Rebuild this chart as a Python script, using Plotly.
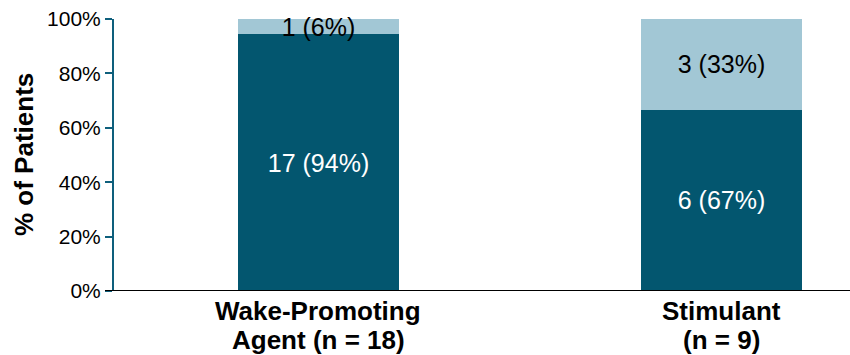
import plotly.graph_objects as go

# Treatment groups and patient counts per response category
groups = ["Wake-Promoting Agent (n = 18)", "Stimulant (n = 9)"]
group_label_lines = [["Wake-Promoting", "Agent (n = 18)"], ["Stimulant", "(n = 9)"]]
group_n = [18, 9]
lower_counts = [17, 6]
upper_counts = [1, 3]
y_ticks = [0, 20, 40, 60, 80, 100]

DARK = "#03566F"
LIGHT = "#A2C7D5"
AXIS_TEAL = "#0E5F7C"
FONT = "Liberation Sans, Arial, Helvetica, sans-serif"

x_pos = list(range(len(groups)))
lower_pct = [c / n * 100 for c, n in zip(lower_counts, group_n)]
upper_pct = [c / n * 100 for c, n in zip(upper_counts, group_n)]
lower_text = [f"{c} ({p:.0f}%)" for c, p in zip(lower_counts, lower_pct)]
upper_text = [f"{c} ({p:.0f}%)" for c, p in zip(upper_counts, upper_pct)]

fig = go.Figure()
fig.add_trace(go.Bar(
    x=x_pos, y=lower_pct, width=0.4, marker=dict(color=DARK, line=dict(width=0)),
    text=lower_text, textposition="inside", insidetextanchor="middle",
    textangle=0, constraintext="none", cliponaxis=False,
    textfont=dict(family=FONT, size=25, color="white"),
    hoverinfo="skip", showlegend=False,
))
fig.add_trace(go.Bar(
    x=x_pos, y=upper_pct, width=0.4, marker=dict(color=LIGHT, line=dict(width=0)),
    text=upper_text, textposition="inside", insidetextanchor="middle",
    textangle=0, constraintext="none", cliponaxis=False,
    textfont=dict(family=FONT, size=25, color="black"),
    hoverinfo="skip", showlegend=False,
))

# Two-line category labels below the axis
for xi, lines in zip(x_pos, group_label_lines):
    for k, line in enumerate(lines):
        fig.add_annotation(
            x=xi, xref="x", y=0, yref="paper", yanchor="middle", xanchor="center",
            yshift=-20 - 29 * k, text=f"<b>{line}</b>", showarrow=False,
            font=dict(family=FONT, size=26, color="black"),
        )

# Vertical axis title
fig.add_annotation(
    x=0, xref="paper", y=0.5, yref="paper", xshift=-90,
    xanchor="center", yanchor="middle", textangle=-90,
    text="<b>% of Patients</b>", showarrow=False,
    font=dict(family=FONT, size=26, color="black"),
)

# Black baseline extending slightly past the y axis
fig.add_shape(
    type="line", xref="paper", yref="y", x0=-9 / 736, x1=1, y0=0, y1=0,
    line=dict(color="black", width=2), layer="above",
)

fig.update_layout(
    width=850, height=355,
    margin=dict(l=114, r=0, t=19, b=64),
    barmode="stack",
    plot_bgcolor="white", paper_bgcolor="white",
    font=dict(family=FONT, color="black"),
    xaxis=dict(
        range=[-0.5074, 1.3189], showticklabels=False, showgrid=False,
        zeroline=False, showline=False, ticks="",
    ),
    yaxis=dict(
        range=[0, 100], tickvals=y_ticks, ticktext=[f"{v}%" for v in y_ticks],
        showgrid=False, zeroline=False, showline=True, linecolor=AXIS_TEAL,
        linewidth=2, ticks="outside", ticklen=7, tickwidth=2, tickcolor=AXIS_TEAL,
        tickfont=dict(family=FONT, size=21, color="black"),
    ),
)

fig.write_html("out.html")
